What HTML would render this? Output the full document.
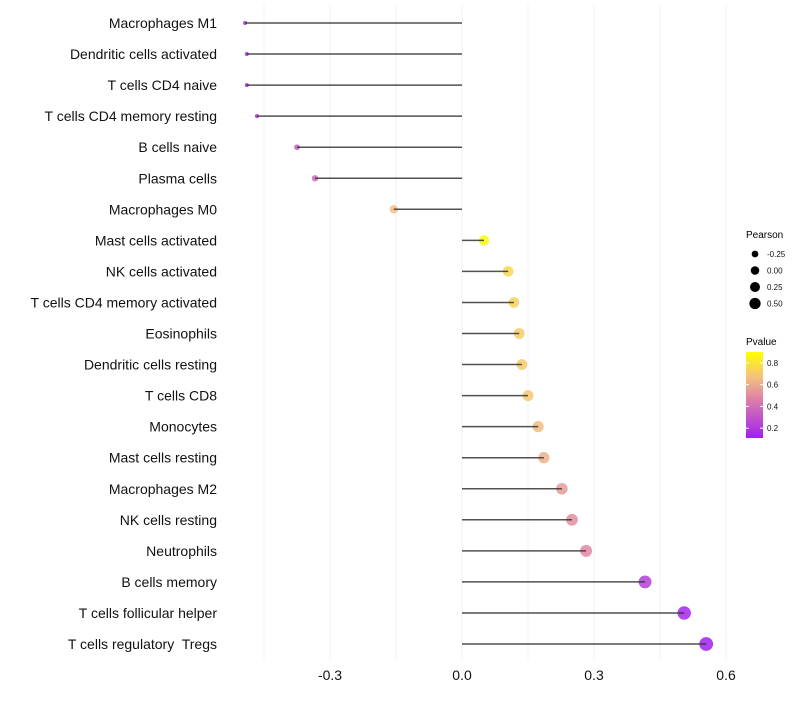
<!DOCTYPE html>
<html><head><meta charset="utf-8"><style>
body{margin:0;background:#fff;font-family:"Liberation Sans",sans-serif;}
svg text{font-family:"Liberation Sans",sans-serif;white-space:pre;}
</style></head><body>
<svg id="chart" width="800" height="700" xmlns="http://www.w3.org/2000/svg">
<defs>
<linearGradient id="pg" x1="0" y1="1" x2="0" y2="0">
<stop offset="0" stop-color="#A020F0"/>
<stop offset="0.45" stop-color="#DD80A8"/>
<stop offset="0.7" stop-color="#F2C080"/>
<stop offset="1" stop-color="#FFFF00"/>
</linearGradient>
</defs>
<g id="grid"></g>
<g id="marks"></g>
<g id="ylabels"></g>
<g id="xlabels"></g>
<g>
<text x="746" y="238" font-size="10" fill="#000">Pearson</text>
<g id="sizeleg"></g>
</g>
<g>
<text x="746" y="345" font-size="10" fill="#000">Pvalue</text>
<rect x="746" y="352" width="17" height="86" fill="url(#pg)"/>
<g id="colleg"></g>
</g>
</svg>
<script>
const categories=["Macrophages M1","Dendritic cells activated","T cells CD4 naive","T cells CD4 memory resting","B cells naive","Plasma cells","Macrophages M0","Mast cells activated","NK cells activated","T cells CD4 memory activated","Eosinophils","Dendritic cells resting","T cells CD8","Monocytes","Mast cells resting","Macrophages M2","NK cells resting","Neutrophils","B cells memory","T cells follicular helper","T cells regulatory  Tregs"];
const pearson=[-0.493,-0.489,-0.489,-0.466,-0.375,-0.334,-0.155,0.05,0.105,0.118,0.13,0.136,0.15,0.173,0.186,0.227,0.25,0.282,0.416,0.505,0.555];
const pvalue=[0.12,0.12,0.12,0.15,0.3,0.33,0.65,0.88,0.74,0.72,0.7,0.69,0.68,0.64,0.6,0.52,0.47,0.45,0.2,0.12,0.1];
const xTicks=[-0.3,0.0,0.3,0.6];
const xTickLabels=["-0.3","0.0","0.3","0.6"];
const xGrid=[-0.45,-0.3,-0.15,0,0.15,0.3,0.45,0.6];
const sizeLegend=[-0.25,0.0,0.25,0.5];
const sizeLegendLabels=["-0.25","0.00","0.25","0.50"];
const colLegend=[0.8,0.6,0.4,0.2];

const NS="http://www.w3.org/2000/svg";
const xs=v=>462+v*440;
const ys=i=>23+i*31.05;
const rs=v=>Math.sqrt(Math.max(4,24+42*v));
const stops=[[0.1,[160,32,240]],[0.42,[221,128,168]],[0.65,[242,192,128]],[0.9,[255,255,0]]];
function col(p){
  if(p<=stops[0][0])return `rgb(${stops[0][1]})`;
  for(let k=1;k<stops.length;k++){if(p<=stops[k][0]){const a=stops[k-1],b=stops[k],t=(p-a[0])/(b[0]-a[0]);
    return `rgb(${a[1].map((c,j)=>Math.round(c+(b[1][j]-c)*t)).join(',')})`;}}
  return `rgb(${stops[stops.length-1][1]})`;
}
function mk(tag,attrs,parent){const e=document.createElementNS(NS,tag);for(const k in attrs)e.setAttribute(k,attrs[k]);parent.appendChild(e);return e;}
const grid=document.getElementById('grid'),marks=document.getElementById('marks'),yl=document.getElementById('ylabels'),xl=document.getElementById('xlabels');
xGrid.forEach(v=>{const l=mk('line',{x1:xs(v),x2:xs(v),y1:5,y2:660,stroke:'#f1f1f1','stroke-width':1},grid);

});
categories.forEach((c,i)=>{
  const y=ys(i);
  const pt=mk('circle',{cx:xs(pearson[i]),cy:y,r:rs(pearson[i]),fill:col(pvalue[i]),'fill-opacity':0.85},marks);
  
  
  const sg=mk('line',{x1:xs(0),x2:xs(pearson[i]),y1:y,y2:y,stroke:'#333','stroke-width':1.5,'stroke-opacity':0.85},marks);
  
  
  const t=mk('text',{x:217,y:y+5,'text-anchor':'end','font-size':14,fill:'#111'},yl);t.textContent=c;
  
  
});
xTicks.forEach((v,i)=>{const t=mk('text',{x:xs(v),y:680,'text-anchor':'middle','font-size':14,fill:'#111'},xl);t.textContent=xTickLabels[i];

});
const sl=document.getElementById('sizeleg');
sizeLegend.forEach((v,i)=>{const y=254+i*16.5;
 const c=mk('circle',{cx:755,cy:y,r:rs(v)*0.75+0.6,fill:'#000'},sl);
 
 
 const t=mk('text',{x:767,y:y+3,'font-size':8,fill:'#111'},sl);t.textContent=sizeLegendLabels[i];
 
 });
const cl=document.getElementById('colleg');
colLegend.forEach(v=>{const y=438-(v-0.11)/0.79*86;
 mk('line',{x1:746,x2:749,y1:y,y2:y,stroke:'#fff','stroke-width':1},cl);
 mk('line',{x1:760,x2:763,y1:y,y2:y,stroke:'#fff','stroke-width':1},cl);
 const t=mk('text',{x:767,y:y+3,'font-size':8,fill:'#111'},cl);t.textContent=v.toFixed(1);
 
 });
</script>
</body></html>
